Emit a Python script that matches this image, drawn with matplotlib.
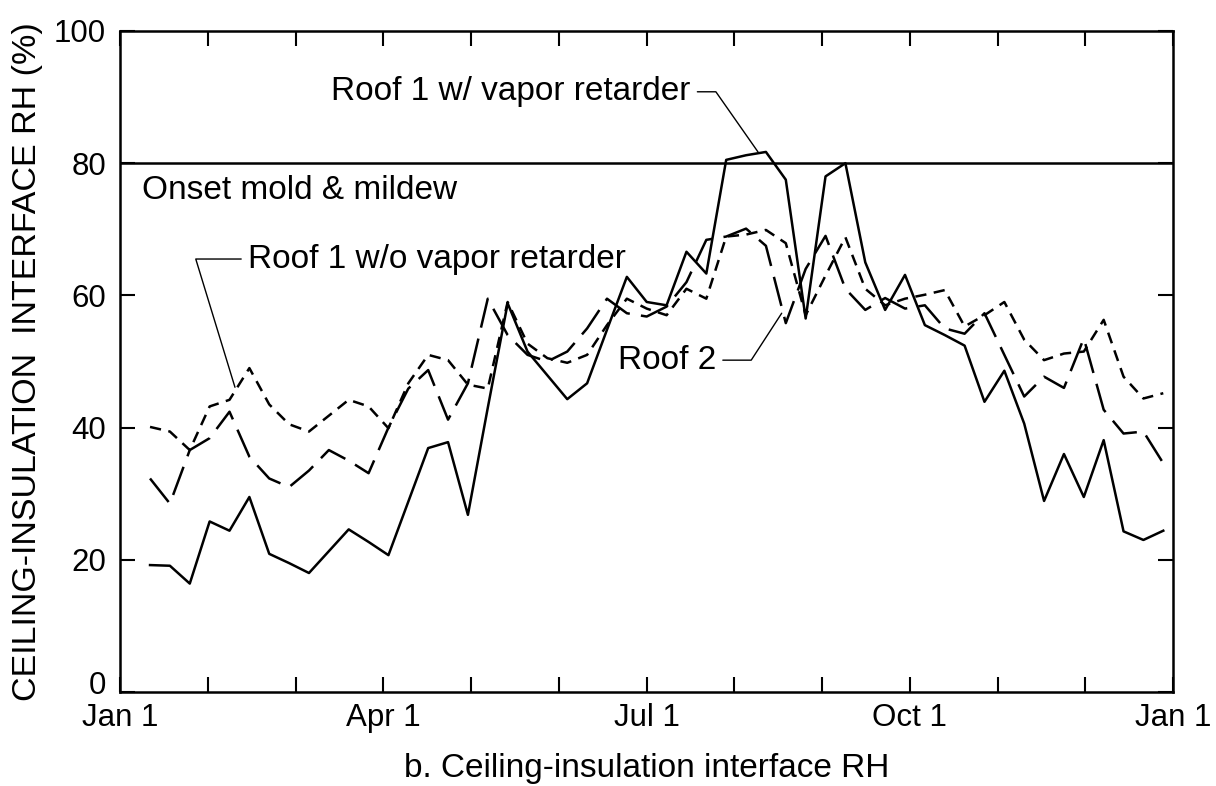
import matplotlib
matplotlib.use('Agg')
import matplotlib.pyplot as plt
import matplotlib.transforms as mtransforms
import numpy as np

# lecturas semanales (52 semanas), humedad relativa en %
techo1_con_barrera = [19.2, 19.1, 16.4, 25.8, 24.4, 29.5, 20.9, 19.5, 18.0, 21.3,
                      24.6, 22.7, 20.7, 28.8, 36.9, 37.8, 26.8, 43.0, 58.8, 51.5,
                      47.9, 44.3, 46.7, 54.8, 62.8, 59.0, 58.5, 66.6, 63.3, 80.5,
                      81.2, 81.7, 77.5, 56.5, 78.0, 80.0, 65.0, 57.8, 63.1, 55.5,
                      54.0, 52.4, 43.9, 48.6, 40.6, 28.9, 36.0, 29.5, 38.1, 24.3,
                      23.0, 24.4]

techo1_sin_barrera = [40.1, 39.4, 36.6, 43.2, 44.2, 49.0, 43.5, 40.5, 39.4, 41.8,
                      44.2, 43.2, 39.9, 46.7, 51.0, 50.2, 46.5, 45.9, 59.0, 52.7,
                      50.5, 49.8, 51.0, 55.5, 59.5, 58.0, 57.0, 61.0, 59.5, 68.9,
                      69.2, 69.9, 67.9, 57.0, 63.0, 68.8, 61.0, 58.5, 59.5, 60.1,
                      60.8, 55.3, 57.0, 59.0, 53.3, 50.2, 51.2, 51.5, 56.3, 47.7,
                      44.4, 45.2]

techo2 = [32.3, 28.5, 36.6, 38.4, 42.4, 35.6, 32.3, 31.0, 33.5, 36.6,
          35.0, 33.1, 40.0, 45.9, 48.7, 41.2, 46.7, 59.5, 54.0, 51.0,
          50.0, 51.5, 55.0, 59.5, 57.3, 56.8, 58.3, 62.0, 68.4, 68.9,
          70.1, 67.5, 55.8, 64.0, 69.0, 61.0, 57.8, 59.6, 58.0, 58.5,
          55.0, 54.2, 57.3, 51.0, 44.7, 47.7, 46.0, 53.5, 42.7, 39.1,
          39.4, 34.6]

etiquetas_x = ['Jan 1', '', '', 'Apr 1', '', '', 'Jul 1', '', '', 'Oct 1', '', '', 'Jan 1']
ticks_y = [0, 20, 40, 60, 80, 100]
umbral_moho = 80

# posicion de cada semana en el eje (unidades de mes)
semanas = np.arange(len(techo2))
meses = 0.342 + 0.2264 * semanas

plt.rcParams['font.family'] = ['Liberation Sans', 'DejaVu Sans']

fig = plt.figure(figsize=(12.16, 7.86), dpi=100)
ax = fig.add_axes([0.0987, 0.1196, 0.866, 0.841])

ax.plot(meses, techo1_con_barrera, color='black', lw=1.8, linestyle='-')
ax.plot(meses, techo1_sin_barrera, color='black', lw=1.8, linestyle=(0, (4.5, 3)))
ax.plot(meses, techo2, color='black', lw=1.8, linestyle=(0, (12, 4.5)))
ax.axhline(umbral_moho, color='black', lw=1.8)

ax.set_xlim(0, 12)
ax.set_ylim(0, 100)
ax.set_xticks(range(13))
ax.set_xticklabels(etiquetas_x)
ax.set_yticks(ticks_y)

ax.tick_params(direction='in', top=True, right=True, length=11, width=1.5,
               labelsize=22.5, color='black')
ax.tick_params(axis='y', pad=10)
ax.tick_params(axis='x', pad=8)
for lado in ax.spines.values():
    lado.set_linewidth(1.8)

# el "0" va un poco mas arriba para no chocar con "Jan 1"
cero = ax.get_yticklabels()[0]
cero.set_transform(cero.get_transform() +
                   mtransforms.ScaledTranslation(0, 0.09, fig.dpi_scale_trans))

ax.set_ylabel('CEILING-INSULATION  INTERFACE RH (%)', fontsize=24.5, labelpad=8)
ax.set_xlabel('b. Ceiling-insulation interface RH', fontsize=24, labelpad=14)

ax.text(0.25, 75.9, 'Onset mold & mildew', fontsize=24, va='center', ha='left')

guia = dict(arrowstyle='-', lw=1.0, color='black', shrinkA=3, shrinkB=0)

ax.annotate('Roof 1 w/ vapor retarder', xy=(7.27, 81.7), xytext=(6.50, 90.8),
            fontsize=24, ha='right', va='center',
            arrowprops=dict(guia, connectionstyle='angle,angleA=0,angleB=125,rad=0'))

ax.annotate('Roof 1 w/o vapor retarder', xy=(1.31, 46.1), xytext=(1.46, 65.5),
            fontsize=24, ha='left', va='center',
            arrowprops=dict(guia, connectionstyle='angle,angleA=0,angleB=107,rad=0'))

ax.annotate('Roof 2', xy=(7.54, 57.3), xytext=(6.79, 50.2),
            fontsize=24, ha='right', va='center',
            arrowprops=dict(guia, connectionstyle='angle,angleA=0,angleB=57,rad=0'))

fig.savefig('out.png', dpi=100)
